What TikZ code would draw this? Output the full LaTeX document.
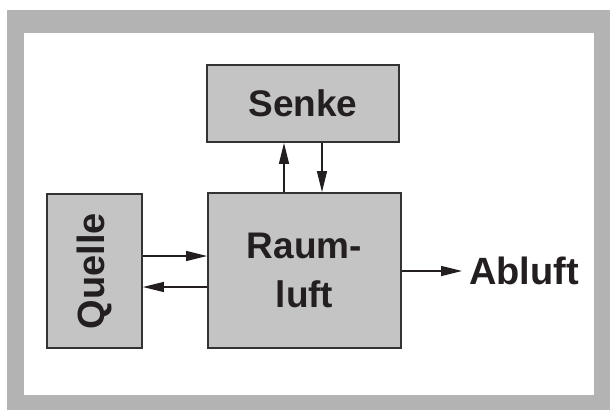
\documentclass[tikz,border=0pt]{standalone}
\usepackage{fontspec}
\setmainfont{Liberation Sans}
\usetikzlibrary{arrows.meta}
\definecolor{framegray}{HTML}{B3B3B3}
\definecolor{boxgray}{HTML}{C4C4C4}
\definecolor{edgegray}{HTML}{333333}
\definecolor{txt}{HTML}{231F20}
\begin{document}
\begin{tikzpicture}[x=1pt,y=-1pt,
  blk/.style={draw=edgegray,line width=1.8pt,fill=boxgray,inner sep=0pt,text=txt,font=\fontsize{37}{49}\selectfont\bfseries,align=center},
  flow/.style={draw=txt,line width=1.3pt,-{Triangle[length=21pt,width=10pt]}},
  lbl/.style={text=txt,font=\fontsize{38}{49}\selectfont\bfseries,inner sep=0pt}]
\useasboundingbox (0,0) rectangle (610,410);
\fill[framegray] (7,10) rectangle (610,410);
\fill[white] (24,33) rectangle (594,395);
\node[blk,minimum width=192pt,minimum height=77pt] (senke) at (303,103.5) {Senke};
\node[blk,minimum width=193pt,minimum height=155pt] (raum) at (304.5,270.5) {Raum-\\luft};
\node[blk,minimum width=95pt,minimum height=154pt] (quelle) at (94.5,271) {};
\node[lbl,rotate=90] (qtext) at (quelle.center) {Quelle};
\node[lbl,anchor=west] (abluft) at (469,271) {Abluft};
\coordinate (a1) at (284,0);
\coordinate (a2) at (322,0);
\coordinate (b1) at (0,256);
\coordinate (b2) at (0,287);
\draw[flow] (raum.north -| a1) -- (senke.south -| a1);
\draw[flow] (senke.south -| a2) -- (raum.north -| a2);
\draw[flow] (quelle.east |- b1) -- (raum.west |- b1);
\draw[flow] (raum.west |- b2) -- (quelle.east |- b2);
\draw[flow] (raum.east |- abluft.west) -- ([xshift=-7pt]abluft.west);
\end{tikzpicture}
\end{document}
